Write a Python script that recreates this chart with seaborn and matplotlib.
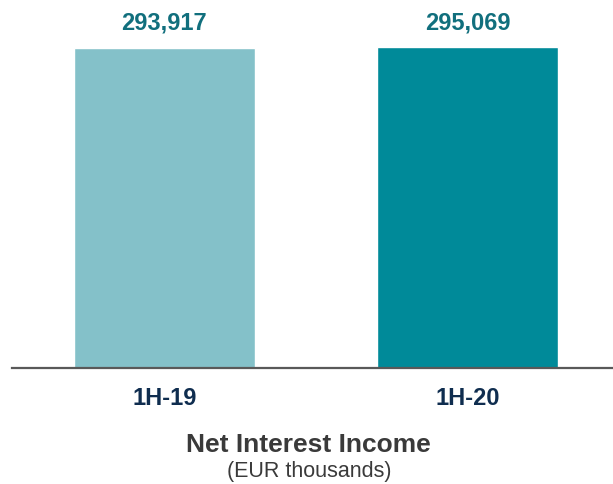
import matplotlib
matplotlib.use("Agg")
import matplotlib.pyplot as plt
import seaborn as sns
import pandas as pd

categories = ["1H-19", "1H-20"]
values = [293917, 295069]
value_labels = ["293,917", "295,069"]
bar_colors = ["#84C1C9", "#008A99"]
title = "Net Interest Income"
subtitle = "(EUR thousands)"

sns.set_theme(style="white")
plt.rcParams['font.family'] = ['Liberation Sans', 'DejaVu Sans']

W, H = 613, 484
fig = plt.figure(figsize=(W / 100, H / 100), dpi=100)
ax = fig.add_axes([12 / W, (H - 368) / H, 601 / W, 368 / H])

df = pd.DataFrame({"cat": categories, "val": values})
sns.barplot(data=df, x="cat", y="val", hue="cat", palette=bar_colors,
            width=0.596, legend=False, ax=ax, saturation=1)

ax.set_xlim(-0.502, 1.478)
ymax = 295069 * 368 / 321
ax.set_ylim(0, ymax)

for sp in ["top", "right", "left"]:
    ax.spines[sp].set_visible(False)
ax.spines["bottom"].set_color("#595959")
ax.spines["bottom"].set_linewidth(1.6)
ax.set_yticks([])
ax.set_xlabel("")
ax.set_ylabel("")
ax.tick_params(axis="x", length=0, pad=14, labelsize=17, labelcolor="#0F2D4F")
for t in ax.get_xticklabels():
    t.set_fontweight("bold")

for i, (v, lab) in enumerate(zip(values, value_labels)):
    ax.annotate(lab, xy=(i, ymax), xycoords="data",
                xytext=(0, -23), textcoords="offset pixels",
                ha="center", va="center", fontsize=17, fontweight="bold",
                color="#116F7D", annotation_clip=False)

fig.text(308 / W, 1 - 445 / H, title, ha="center", va="center",
         fontsize=19, fontweight="bold", color="#3A3A3A")
fig.text(309 / W, 1 - 471.5 / H, subtitle, ha="center", va="center",
         fontsize=15.5, color="#3A3A3A")

fig.savefig("out.png", dpi=100)
